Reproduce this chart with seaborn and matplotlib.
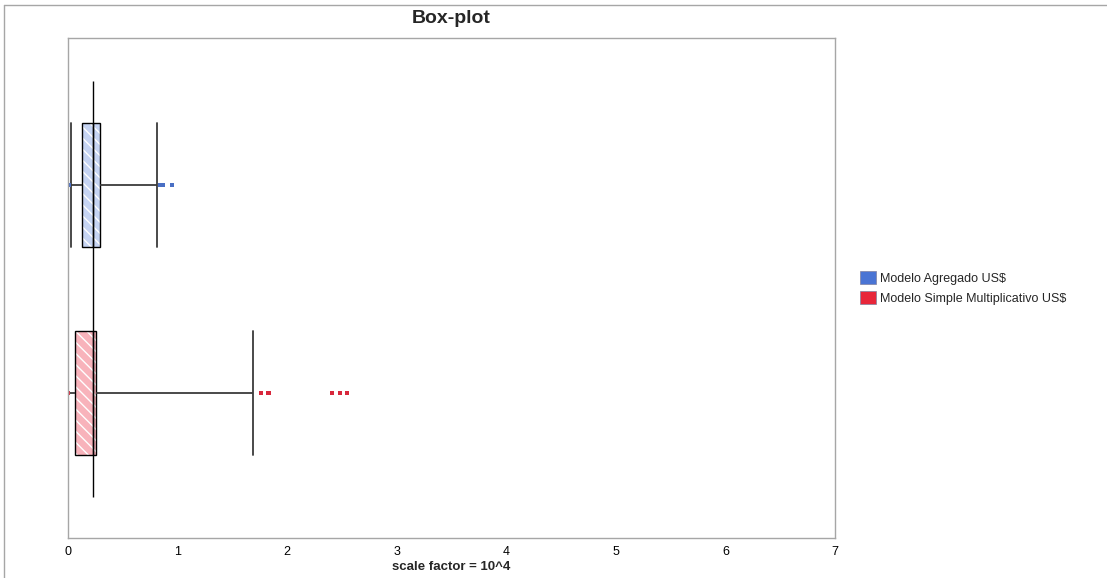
import matplotlib
matplotlib.use('Agg')
import matplotlib.pyplot as plt
from matplotlib.patches import Patch
from matplotlib.lines import Line2D
from matplotlib.colors import to_rgba
import seaborn as sns
import pandas as pd

# resumen de cinco numeros por modelo (min bigote, Q1, mediana, Q3, max bigote), escala 10^4
grupos = ['Modelo Agregado US$', 'Modelo Simple Multiplicativo US$']
resumen_agregado = [0.027, 0.125, 0.225, 0.29, 0.81]
resumen_simple = [0.0, 0.064, 0.225, 0.255, 1.685]

# valores atipicos
atipicos_agregado = [0.005, 0.84, 0.87, 0.95]
atipicos_simple = [0.0, 1.76, 1.83, 2.41, 2.48, 2.55]

mediana_comun = 0.225

colores_caja = ['#c6d4f3', '#f8b3bb']
colores_leyenda = ['#4a74d4', '#e8263a']
colores_puntos = ['#4a6fc4', '#d8283c']

cajas = pd.DataFrame({
    'grupo': [grupos[0]] * len(resumen_agregado) + [grupos[1]] * len(resumen_simple),
    'valor': resumen_agregado + resumen_simple,
})
puntos = pd.DataFrame({
    'grupo': [grupos[0]] * len(atipicos_agregado) + [grupos[1]] * len(atipicos_simple),
    'valor': atipicos_agregado + atipicos_simple,
})

sns.set_style('white')
plt.rcParams['font.family'] = ['Liberation Sans', 'DejaVu Sans']
plt.rcParams['hatch.linewidth'] = 1.0

fig = plt.figure(figsize=(11.07, 5.78), dpi=100)
ax = fig.add_axes([0.0614, 0.0692, 0.6929, 0.8651])

sns.boxplot(data=cajas, x='valor', y='grupo', hue='grupo', order=grupos,
            hue_order=grupos, palette=colores_caja, saturation=1, width=0.6,
            whis=(0, 100), showfliers=False, linecolor='black', linewidth=1,
            capwidths=0.6, legend=False, ax=ax,
            whiskerprops={'color': '#3a3a3a', 'linewidth': 1.3},
            capprops={'color': '#3a3a3a', 'linewidth': 1.3},
            medianprops={'color': 'black', 'linewidth': 1})

for p in ax.patches:
    p.set_hatch('\\\\\\')
    try:
        p.set_hatchcolor('white')
    except AttributeError:
        p._hatch_color = to_rgba('white')

sns.stripplot(data=puntos, x='valor', y='grupo', hue='grupo', order=grupos,
              hue_order=grupos, palette=colores_puntos, jitter=False,
              marker='s', size=3, linewidth=0, legend=False, ax=ax)

ax.vlines(mediana_comun, -0.5, len(grupos) - 0.5, color='black', linewidth=1)

ax.set_xlim(0, 7)
ax.set_ylim(1.697, -0.707)
ax.set_xticks(range(0, 8))
ax.set_yticks([])
ax.set_ylabel('')
ax.set_xlabel('scale factor = 10^4', fontsize=9.5, fontweight='bold', labelpad=2)
ax.set_title('Box-plot', fontsize=14, fontweight='bold', pad=11)
ax.tick_params(axis='x', direction='out', length=4, color='#a6a6a6',
               labelsize=9, labelcolor='black', pad=2)
for s in ax.spines.values():
    s.set_color('#a6a6a6')
    s.set_linewidth(1)
    s.set_zorder(5)

handles = [Patch(facecolor=c, edgecolor='#8080a0', linewidth=0.5) for c in colores_leyenda]
ax.legend(handles, grupos, loc='center left', bbox_to_anchor=(1.033, 0.5),
          frameon=False, fontsize=9, handlelength=1.25, handleheight=1.2,
          handletextpad=0.35, labelspacing=0.5, borderpad=0, borderaxespad=0)

# marco exterior de la figura
fig.add_artist(Line2D([4 / 1107, 4 / 1107], [0, 1 - 5 / 578], color='#a6a6a6', linewidth=1))
fig.add_artist(Line2D([4 / 1107, 1], [1 - 5 / 578, 1 - 5 / 578], color='#a6a6a6', linewidth=1))

fig.savefig('out.png', dpi=100)
